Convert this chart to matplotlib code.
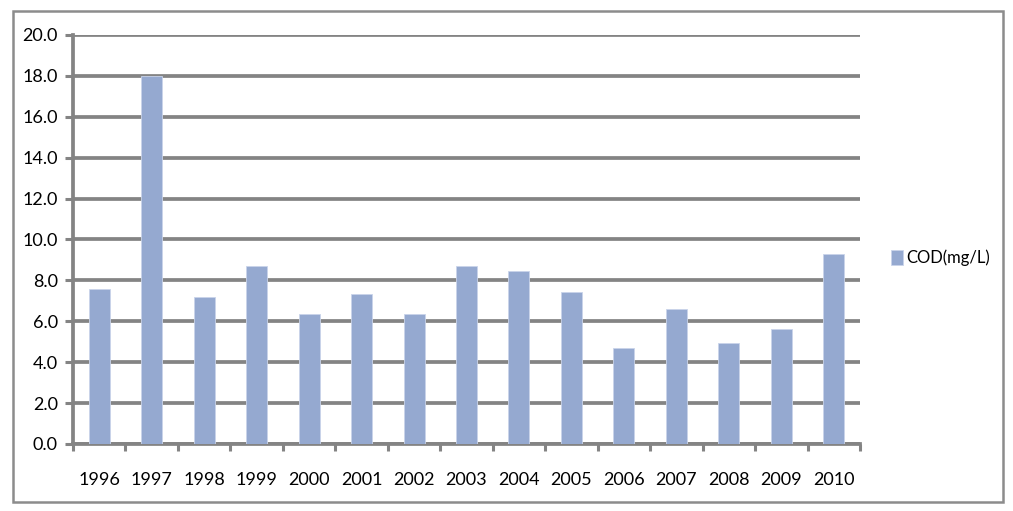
import matplotlib.pyplot as plt
from matplotlib.patches import Rectangle
import numpy as np

years = ['1996', '1997', '1998', '1999', '2000', '2001', '2002', '2003',
         '2004', '2005', '2006', '2007', '2008', '2009', '2010']
cod = [7.6, 18.0, 7.2, 8.7, 6.35, 7.35, 6.35, 8.7, 8.45, 7.45, 4.7, 6.6, 4.95, 5.6, 9.3]

plt.rcParams['font.family'] = ['Lato', 'DejaVu Sans']
grey = '#848484'

fig = plt.figure(figsize=(10.13, 5.11), dpi=100)
ax = fig.add_axes([73 / 1013, 1 - 444 / 511, 787 / 1013, 409 / 511])

x = np.arange(len(years))
ax.bar(x, cod, width=0.4, color='#95a9d0', edgecolor='#c9d4ea', linewidth=0.6,
       label='COD(mg/L)', zorder=3)

ax.set_xlim(-0.5, len(years) - 0.5)
ax.set_ylim(0, 20)
ax.set_yticks(np.arange(0, 20.1, 2))
ax.set_yticklabels(['%.1f' % v for v in np.arange(0, 20.1, 2)])
ax.yaxis.grid(True, color=grey, linewidth=2.7, zorder=0)
ax.set_axisbelow(True)

ax.set_xticks(x)
ax.set_xticklabels(years)
ax.set_xticks(np.arange(-0.5, len(years), 1), minor=True)
ax.tick_params(axis='x', which='major', length=0, pad=20, labelsize=13)
ax.tick_params(axis='x', which='minor', length=5, width=2.2, color=grey, direction='out')
ax.tick_params(axis='y', length=6, width=2.2, color=grey, pad=5, labelsize=13)

for s in ['top', 'right']:
    ax.spines[s].set_visible(False)
for s in ['left', 'bottom']:
    ax.spines[s].set_color(grey)
    ax.spines[s].set_linewidth(2.7)

ax.legend(loc='center left', bbox_to_anchor=(1.02, 0.455), frameon=False,
          fontsize=12, handlelength=0.75, handleheight=1.0, handletextpad=0.2)

fig.patches.append(Rectangle((13 / 1013, 1 - 502 / 511), 990 / 1013, 491 / 511,
                             transform=fig.transFigure, fill=False,
                             edgecolor='#8c8c8c', linewidth=1.8))

fig.savefig('out.png', dpi=100)
